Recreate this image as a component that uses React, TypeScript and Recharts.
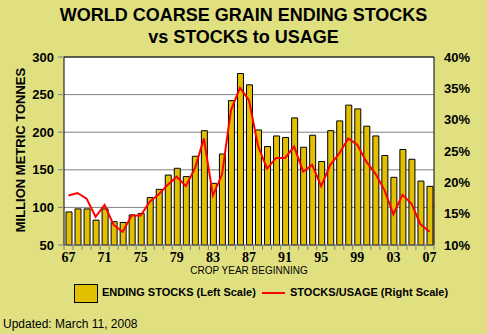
import { Bar, CartesianGrid, ComposedChart, Line, ReferenceLine, XAxis, YAxis } from "recharts";

const years = [
  "67", "68", "69", "70", "71", "72", "73", "74", "75", "76", "77", "78", "79", "80",
  "81", "82", "83", "84", "85", "86", "87", "88", "89", "90", "91", "92", "93", "94",
  "95", "96", "97", "98", "99", "00", "01", "02", "03", "04", "05", "06", "07",
];

const endingStocks = [
  94, 98, 98, 83, 98, 81, 80, 90, 92, 113, 124, 143, 152, 141,
  168, 202, 132, 171, 242, 278, 263, 203, 181, 195, 193, 219, 180, 196,
  161, 202, 215, 236, 231, 208, 195, 169, 140, 177, 164, 135, 128,
];

const stocksUsage = [
  17.9, 18.3, 17.4, 14.5, 16.4, 13.2, 12.1, 14.7, 14.7, 16.9, 18.1, 19.6, 20.9, 19.4,
  22.2, 27.0, 17.9, 21.2, 31.5, 35.1, 33.1, 25.8, 22.2, 23.9, 23.9, 25.7, 21.7, 22.8,
  19.4, 22.8, 24.6, 27.0, 26.0, 23.3, 21.4, 18.8, 14.9, 18.0, 16.6, 13.3, 12.1,
];

const leftTicks = [50, 100, 150, 200, 250, 300];
const rightTicks = [10, 15, 20, 25, 30, 35, 40];

const data = years.map((year, i) => ({
  year,
  stocks: endingStocks[i],
  ratio: stocksUsage[i],
}));

const BG = "#E0E080";
const GOLD = "#E0C000";
const band = 370 / years.length;

function YearTick(props: any) {
  const { x, y, index } = props;
  const left = x - band / 2;
  return (
    <g>
      <line x1={left} y1={y} x2={left} y2={y + 5} stroke="#808080" />
      {index === years.length - 1 && (
        <line x1={x + band / 2} y1={y} x2={x + band / 2} y2={y + 5} stroke="#808080" />
      )}
      {index % 4 === 0 && (
        <text
          x={x}
          y={y + 17}
          textAnchor="middle"
          fontFamily="'Liberation Serif', serif"
          fontWeight="bold"
          fontSize={14}
          fill="#000"
        >
          {years[index]}
        </text>
      )}
    </g>
  );
}

export default function App() {
  const label = { fontFamily: "Arial, 'Liberation Sans', sans-serif", fontWeight: "bold", color: "#000" };
  return (
    <div style={{ position: "absolute", left: 0, top: 0, width: 487, height: 334, background: BG, overflow: "hidden" }}>
      <div style={{ ...label, position: "absolute", left: 0, width: 487, top: 4, textAlign: "center", fontSize: 18, lineHeight: "22px" }}>
        WORLD COARSE GRAIN ENDING STOCKS
        <br />
        vs STOCKS to USAGE
      </div>
      <ComposedChart
        width={487}
        height={334}
        data={data}
        margin={{ top: 57, right: 0, bottom: 64, left: 0 }}
        barCategoryGap={3}
      >
        <CartesianGrid vertical={false} stroke="#808080" fill="#FFFFFF" yAxisId="left" />
        <XAxis
          dataKey="year"
          interval={0}
          tick={<YearTick />}
          tickLine={false}
          tickSize={0}
          tickMargin={0}
          height={25}
          axisLine={{ stroke: "#808080" }}
        />
        <YAxis
          yAxisId="left"
          orientation="left"
          domain={[50, 300]}
          ticks={leftTicks}
          width={64}
          tickSize={6}
          tickMargin={4}
          tickLine={{ stroke: "#808080" }}
          axisLine={{ stroke: "#000" }}
          tick={{ fill: "#000", fontSize: 13, fontWeight: "bold", fontFamily: "Arial, 'Liberation Sans', sans-serif" }}
        />
        <YAxis
          yAxisId="right"
          orientation="right"
          domain={[10, 40]}
          ticks={rightTicks}
          width={53}
          tickSize={8}
          tickLine={false}
          axisLine={{ stroke: "#000" }}
          tickFormatter={(v) => `${v}%`}
          tick={{ fill: "#000", fontSize: 13, fontWeight: "bold", fontFamily: "Arial, 'Liberation Sans', sans-serif" }}
        />
        <ReferenceLine yAxisId="left" y={300} stroke="#000" />
        <Bar yAxisId="left" dataKey="stocks" fill={GOLD} stroke="#000" strokeWidth={1} barSize={6} isAnimationActive={false} />
        <Line
          yAxisId="right"
          dataKey="ratio"
          type="linear"
          stroke="#FF0000"
          strokeWidth={2}
          dot={false}
          isAnimationActive={false}
        />
      </ComposedChart>
      <div
        style={{
          ...label,
          position: "absolute",
          left: 20,
          top: 150,
          fontSize: 13,
          whiteSpace: "nowrap",
          transform: "translate(-50%, -50%) rotate(-90deg)",
        }}
      >
        MILLION METRIC TONNES
      </div>
      <div
        style={{
          position: "absolute",
          left: 0,
          width: 498,
          top: 265,
          textAlign: "center",
          fontSize: 10,
          fontFamily: "Arial, 'Liberation Sans', sans-serif",
          color: "#000",
        }}
      >
        CROP YEAR BEGINNING
      </div>
      <div style={{ position: "absolute", left: 74, top: 284, width: 22, height: 17, background: GOLD, border: "1px solid #000" }} />
      <div style={{ ...label, position: "absolute", left: 102, top: 286, fontSize: 11, whiteSpace: "nowrap" }}>
        ENDING STOCKS (Left Scale)
      </div>
      <div style={{ position: "absolute", left: 262, top: 292, width: 23, height: 2, background: "#FF0000" }} />
      <div style={{ ...label, position: "absolute", left: 290, top: 286, fontSize: 11, whiteSpace: "nowrap" }}>
        STOCKS/USAGE (Right Scale)
      </div>
      <div
        style={{
          position: "absolute",
          left: 3,
          top: 317,
          fontSize: 12,
          fontFamily: "Arial, 'Liberation Sans', sans-serif",
          color: "#000",
          whiteSpace: "nowrap",
        }}
      >
        Updated: March 11, 2008
      </div>
    </div>
  );
}
